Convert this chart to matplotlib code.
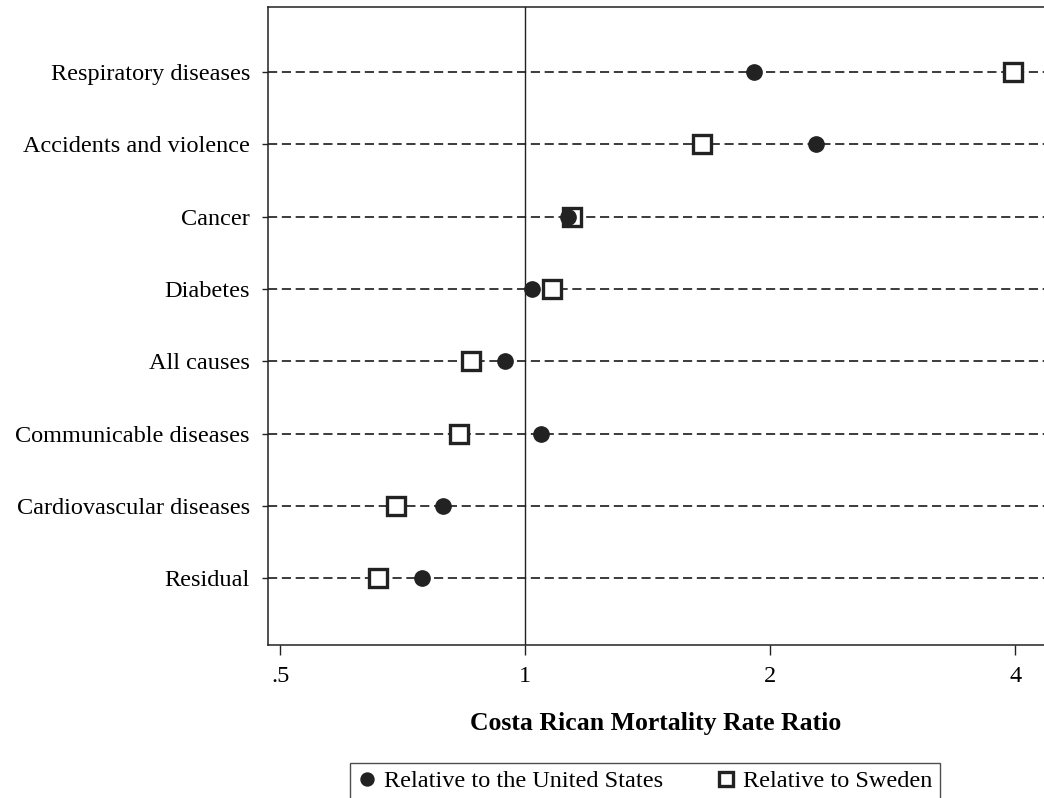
import numpy as np
import matplotlib
matplotlib.use("Agg")
import matplotlib.pyplot as plt
from matplotlib.ticker import FixedLocator, FixedFormatter, NullLocator

plt.rcParams['font.family'] = ['Liberation Serif', 'DejaVu Serif']

# causes, top to bottom
causes = ["Respiratory diseases", "Accidents and violence", "Cancer", "Diabetes",
          "All causes", "Communicable diseases", "Cardiovascular diseases", "Residual"]
vs_us = [1.91, 2.28, 1.13, 1.02, 0.945, 1.046, 0.793, 0.747]
vs_sweden = [3.98, 1.65, 1.14, 1.08, 0.858, 0.83, 0.694, 0.66]
xticks = [0.5, 1, 2, 4]
xticklabels = [".5", "1", "2", "4"]

ypos = np.arange(len(causes), 0, -1)

fig = plt.figure(figsize=(10.44, 7.98), dpi=100)
ax = fig.add_axes([0.2567, 0.1917, 0.7433, 0.7995])

for y in ypos:
    ax.axhline(y, color='#1a1a1a', lw=1.2, ls=(0, (5.5, 2.8)), zorder=1)
ax.axvline(1, color='#222222', lw=1.0, zorder=1)

ax.plot(vs_sweden, ypos, ls='none', marker='s', ms=12.5, mfc='white', mec='#222222',
        mew=2.4, zorder=3, label='Relative to Sweden')
ax.plot(vs_us, ypos, ls='none', marker='o', ms=11, mfc='#222222', mec='#222222',
        zorder=4, label='Relative to the United States')

ax.set_xscale('log')
ax.set_xlim(0.483, 4.34)
ax.set_ylim(0.08, 8.9)
ax.xaxis.set_major_locator(FixedLocator(xticks))
ax.xaxis.set_major_formatter(FixedFormatter(xticklabels))
ax.xaxis.set_minor_locator(NullLocator())
ax.set_yticks(ypos)
ax.set_yticklabels(causes)

ax.tick_params(axis='x', length=7, width=1, direction='out', labelsize=17.5, pad=8, color='#222222')
ax.tick_params(axis='y', length=4, width=1, direction='out', labelsize=17.5, pad=9, color='#222222')
for s in ['left', 'bottom', 'top']:
    ax.spines[s].set_color('#222222')
    ax.spines[s].set_linewidth(1.1)
ax.spines['right'].set_visible(False)

ax.set_xlabel("Costa Rican Mortality Rate Ratio", fontsize=18.5, fontweight='bold', labelpad=18)

handles, labels = ax.get_legend_handles_labels()
leg = fig.legend(handles[::-1], labels[::-1], loc='upper center', ncol=2,
                 bbox_to_anchor=(645 / 1044, 1 - 763 / 798), fontsize=17.5,
                 frameon=True, fancybox=False, edgecolor='#222222',
                 handletextpad=0.3, columnspacing=2.2, handlelength=0.8,
                 borderpad=0.3, borderaxespad=0, markerscale=0.85)
leg.get_frame().set_linewidth(1.0)

fig.savefig("out.png", dpi=100)
